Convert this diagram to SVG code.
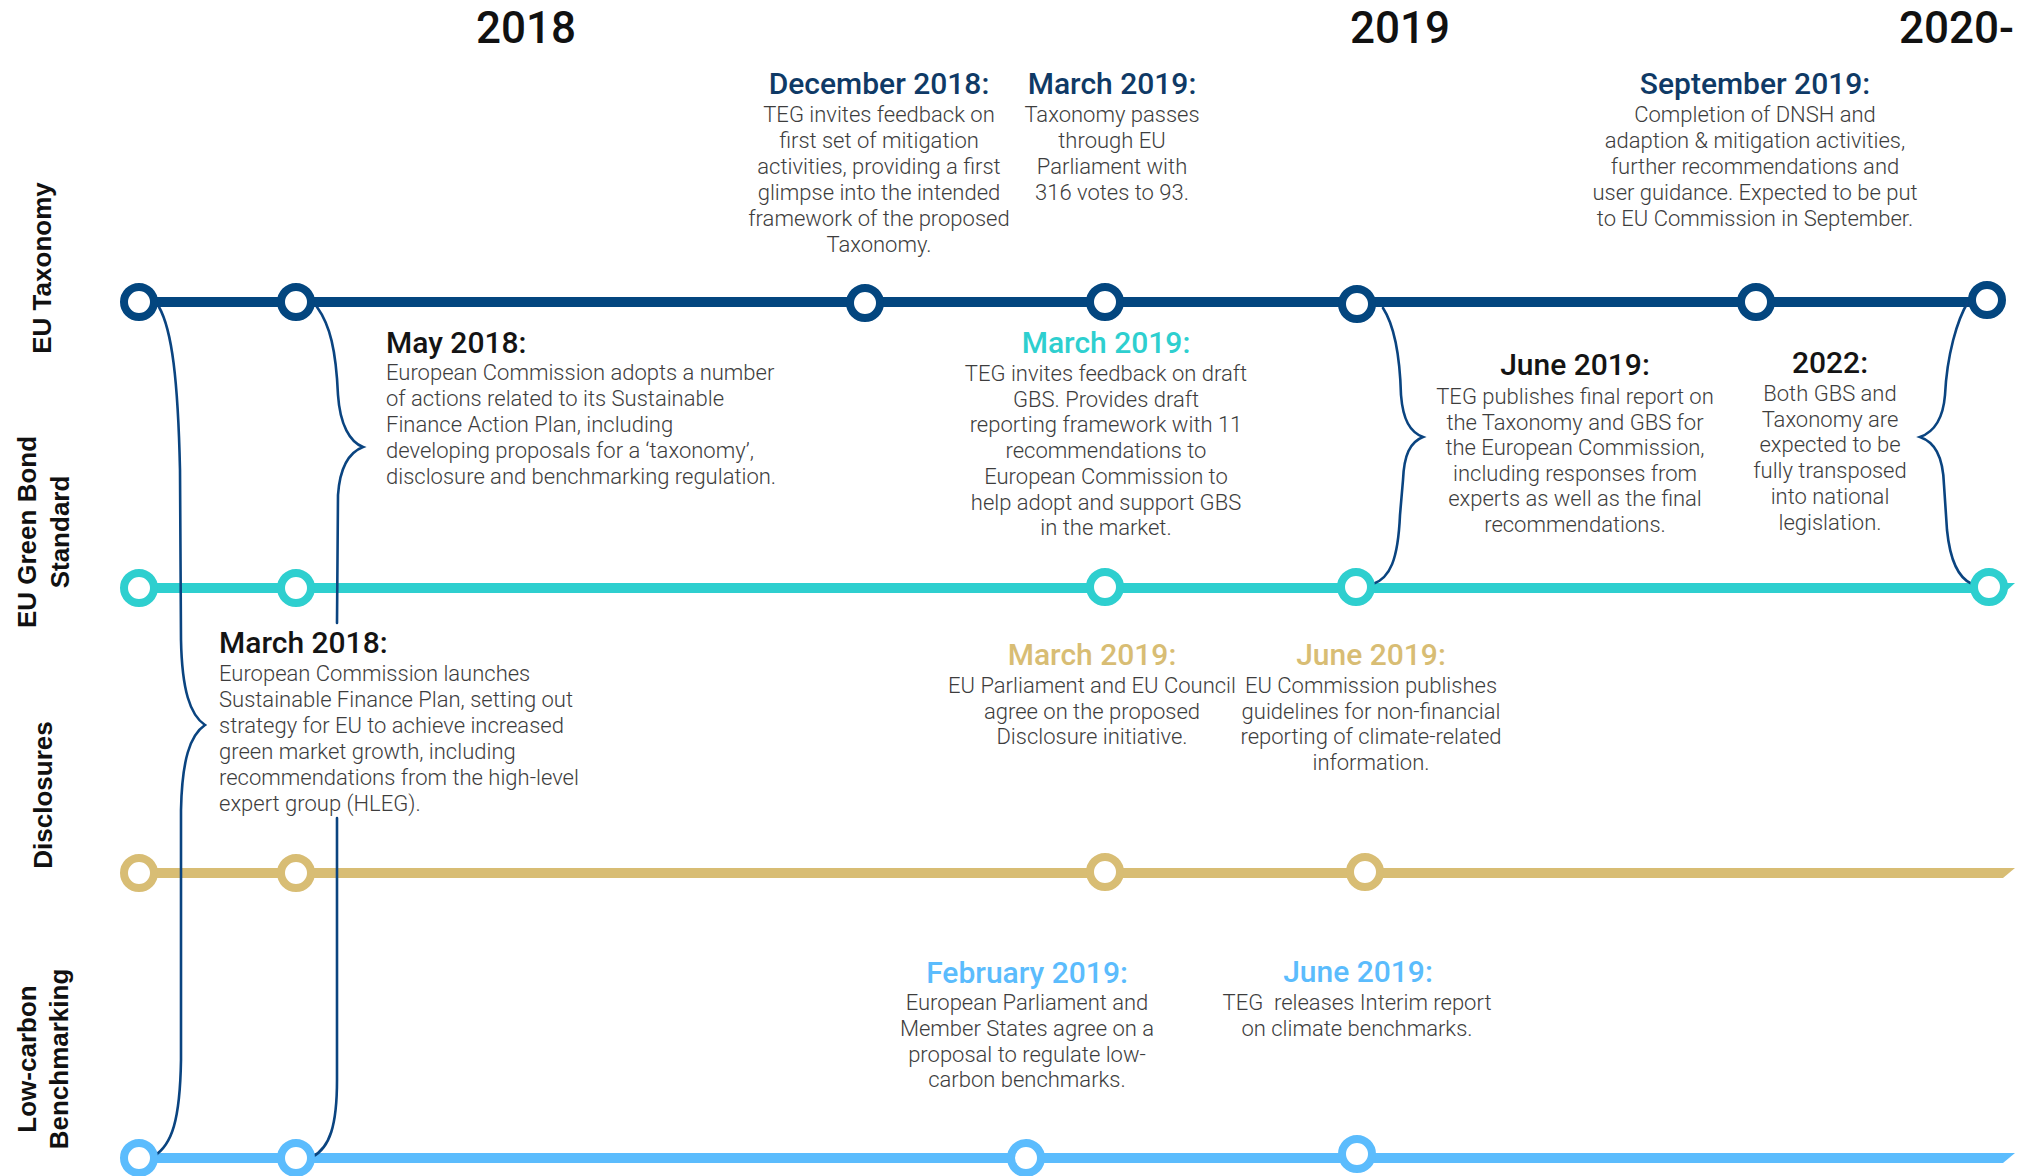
<svg xmlns="http://www.w3.org/2000/svg" width="2036" height="1176" viewBox="0 0 2036 1176">
<style>
.year{font-family:Roboto,"Liberation Sans",sans-serif;font-size:44px;font-weight:500;fill:#111;text-anchor:middle}
.lane{font-family:"Liberation Sans",Arial,sans-serif;font-size:26px;font-weight:700;fill:#111;text-anchor:middle}
.hd{font-family:Roboto,"Liberation Sans",sans-serif;font-size:30px;font-weight:500}
.bd{font-family:Roboto,"Liberation Sans",sans-serif;font-size:22px;font-weight:300;fill:#3d3d3d}
.c{text-anchor:middle}
.navy{fill:#0f3a66}.teal{fill:#2ecfcf}.gold{fill:#d8bd74}.sky{fill:#5bbcfd}.blk{fill:#141414}
.brace{fill:none;stroke:#0a4480;stroke-width:2.6;stroke-linecap:round}
.n{fill:#fff;stroke-width:8}
.nNavy{stroke:#03467f}.nTeal{stroke:#2ecfcf}.nGold{stroke:#d8bd74}.nSky{stroke:#5bbcfd}
</style>
<rect width="2036" height="1176" fill="#fff"/>

<g id="years">
<text class="year" x="526" y="43">2018</text>
<text class="year" x="1400" y="43">2019</text>
<text class="year" x="1899" y="43" style="text-anchor:start">2020-</text>
</g>

<g id="lane-labels">
<text class="lane" transform="translate(51,268) rotate(-90)">EU Taxonomy</text>
<text class="lane" transform="translate(36,532) rotate(-90)">EU Green Bond</text>
<text class="lane" transform="translate(69,532) rotate(-90)">Standard</text>
<text class="lane" transform="translate(52,795) rotate(-90)">Disclosures</text>
<text class="lane" transform="translate(36,1059) rotate(-90)">Low-carbon</text>
<text class="lane" transform="translate(68,1059) rotate(-90)">Benchmarking</text>
</g>

<g id="connectors">
<line x1="139" y1="302" x2="1987" y2="302" stroke="#03467f" stroke-width="10"/>
<polygon points="139,583 2015,583 2004,593 139,593" fill="#2ecfcf"/>
<polygon points="139,868 2015,868 2003,878 139,878" fill="#d8bd74"/>
<polygon points="139,1153 2015,1153 2003,1163 139,1163" fill="#5bbcfd"/>
<path class="brace" d="M159,307 C172,330 178,380 180,470 L181,640 C182,690 190,715 205,725 C190,735 182,760 181,810 L181,1060 C180,1120 172,1145 154,1156"/>
<path class="brace" d="M317,307 C330,325 336,350 338,395 C340,425 350,442 363,447 C350,452 340,465 338,495 L337,623 M337,818 L337,1080 C337,1125 330,1148 312,1157"/>
<path class="brace" d="M1383,308 C1396,328 1400,360 1401,395 C1403,420 1410,432 1423,437 C1410,442 1404,455 1403,480 L1400,515 C1398,560 1390,578 1373,584"/>
<path class="brace" d="M1968,302 C1957,320 1947,355 1945,395 C1943,420 1934,432 1920,437 C1934,442 1943,455 1944,485 L1947,530 C1950,560 1958,578 1972,584"/>
</g>

<g id="nodes-taxonomy">
<circle class="n nNavy" cx="139" cy="302" r="15"/>
<circle class="n nNavy" cx="296" cy="302" r="15"/>
<circle class="n nNavy" cx="865" cy="303" r="15"/>
<circle class="n nNavy" cx="1105" cy="302" r="15"/>
<circle class="n nNavy" cx="1357" cy="304" r="15"/>
<circle class="n nNavy" cx="1756" cy="302" r="15"/>
<circle class="n nNavy" cx="1987" cy="300" r="15"/>
</g>
<g id="nodes-gbs">
<circle class="n nTeal" cx="139" cy="588" r="15"/>
<circle class="n nTeal" cx="296" cy="588" r="15"/>
<circle class="n nTeal" cx="1105" cy="587" r="15"/>
<circle class="n nTeal" cx="1356" cy="587" r="15"/>
<circle class="n nTeal" cx="1989" cy="587" r="15"/>
</g>
<g id="nodes-disclosures">
<circle class="n nGold" cx="139" cy="873" r="15"/>
<circle class="n nGold" cx="296" cy="873" r="15"/>
<circle class="n nGold" cx="1105" cy="872" r="15"/>
<circle class="n nGold" cx="1365" cy="872" r="15"/>
</g>
<g id="nodes-benchmark">
<circle class="n nSky" cx="139" cy="1158" r="15"/>
<circle class="n nSky" cx="296" cy="1158" r="15"/>
<circle class="n nSky" cx="1026" cy="1158" r="15"/>
<circle class="n nSky" cx="1357" cy="1154" r="15"/>
</g>

<g id="event-dec-2018">
<text class="hd c navy" x="879" y="94">December 2018:</text>
<text class="bd c"><tspan x="879" y="122">TEG invites feedback on</tspan><tspan x="879" y="148">first set of mitigation</tspan><tspan x="879" y="174">activities, providing a first</tspan><tspan x="879" y="200">glimpse into the intended</tspan><tspan x="879" y="226">framework of the proposed</tspan><tspan x="879" y="252">Taxonomy.</tspan></text>
</g>
<g id="event-mar-2019-taxonomy">
<text class="hd c navy" x="1112" y="94">March 2019:</text>
<text class="bd c"><tspan x="1112" y="122">Taxonomy passes</tspan><tspan x="1112" y="148">through EU</tspan><tspan x="1112" y="174">Parliament with</tspan><tspan x="1112" y="200">316 votes to 93.</tspan></text>
</g>
<g id="event-sep-2019">
<text class="hd c navy" x="1755" y="94">September 2019:</text>
<text class="bd c"><tspan x="1755" y="122">Completion of DNSH and</tspan><tspan x="1755" y="148">adaption &amp; mitigation activities,</tspan><tspan x="1755" y="174">further recommendations and</tspan><tspan x="1755" y="200">user guidance. Expected to be put</tspan><tspan x="1755" y="226">to EU Commission in September.</tspan></text>
</g>
<g id="event-may-2018">
<text class="hd blk" x="386" y="353">May 2018:</text>
<text class="bd"><tspan x="386" y="380">European Commission adopts a number</tspan><tspan x="386" y="406">of actions related to its Sustainable</tspan><tspan x="386" y="432">Finance Action Plan, including</tspan><tspan x="386" y="458">developing proposals for a ‘taxonomy’,</tspan><tspan x="386" y="484">disclosure and benchmarking regulation.</tspan></text>
</g>
<g id="event-mar-2019-gbs">
<text class="hd c teal" x="1106" y="353">March 2019:</text>
<text class="bd c"><tspan x="1106" y="381">TEG invites feedback on draft</tspan><tspan x="1106" y="406.7">GBS. Provides draft</tspan><tspan x="1106" y="432.4">reporting framework with 11</tspan><tspan x="1106" y="458.1">recommendations to</tspan><tspan x="1106" y="483.8">European Commission to</tspan><tspan x="1106" y="509.5">help adopt and support GBS</tspan><tspan x="1106" y="535.2">in the market.</tspan></text>
</g>
<g id="event-jun-2019-gbs">
<text class="hd c blk" x="1575" y="375">June 2019:</text>
<text class="bd c"><tspan x="1575" y="404">TEG publishes final report on</tspan><tspan x="1575" y="429.5">the Taxonomy and GBS for</tspan><tspan x="1575" y="455">the European Commission,</tspan><tspan x="1575" y="480.5">including responses from</tspan><tspan x="1575" y="506">experts as well as the final</tspan><tspan x="1575" y="531.5">recommendations.</tspan></text>
</g>
<g id="event-2022">
<text class="hd c blk" x="1830" y="373">2022:</text>
<text class="bd c"><tspan x="1830" y="401">Both GBS and</tspan><tspan x="1830" y="426.7">Taxonomy are</tspan><tspan x="1830" y="452.4">expected to be</tspan><tspan x="1830" y="478">fully transposed</tspan><tspan x="1830" y="503.8">into national</tspan><tspan x="1830" y="529.5">legislation.</tspan></text>
</g>
<g id="event-mar-2018">
<text class="hd blk" x="219" y="653">March 2018:</text>
<text class="bd"><tspan x="219" y="681">European Commission launches</tspan><tspan x="219" y="707">Sustainable Finance Plan, setting out</tspan><tspan x="219" y="733">strategy for EU to achieve increased</tspan><tspan x="219" y="759">green market growth, including</tspan><tspan x="219" y="785">recommendations from the high-level</tspan><tspan x="219" y="811">expert group (HLEG).</tspan></text>
</g>
<g id="event-mar-2019-disclosures">
<text class="hd c gold" x="1092" y="665">March 2019:</text>
<text class="bd c"><tspan x="1092" y="693">EU Parliament and EU Council</tspan><tspan x="1092" y="718.5">agree on the proposed</tspan><tspan x="1092" y="744">Disclosure initiative.</tspan></text>
</g>
<g id="event-jun-2019-disclosures">
<text class="hd c gold" x="1371" y="665">June 2019:</text>
<text class="bd c"><tspan x="1371" y="693">EU Commission publishes</tspan><tspan x="1371" y="718.5">guidelines for non-financial</tspan><tspan x="1371" y="744">reporting of climate-related</tspan><tspan x="1371" y="769.5">information.</tspan></text>
</g>
<g id="event-feb-2019">
<text class="hd c sky" x="1027" y="983">February 2019:</text>
<text class="bd c"><tspan x="1027" y="1010">European Parliament and</tspan><tspan x="1027" y="1036">Member States agree on a</tspan><tspan x="1027" y="1061.5">proposal to regulate low-</tspan><tspan x="1027" y="1087">carbon benchmarks.</tspan></text>
</g>
<g id="event-jun-2019-benchmark">
<text class="hd c sky" x="1358" y="982">June 2019:</text>
<text class="bd c" style="white-space:pre"><tspan x="1357" y="1010">TEG  releases Interim report</tspan><tspan x="1357" y="1036">on climate benchmarks.</tspan></text>
</g>
</svg>
